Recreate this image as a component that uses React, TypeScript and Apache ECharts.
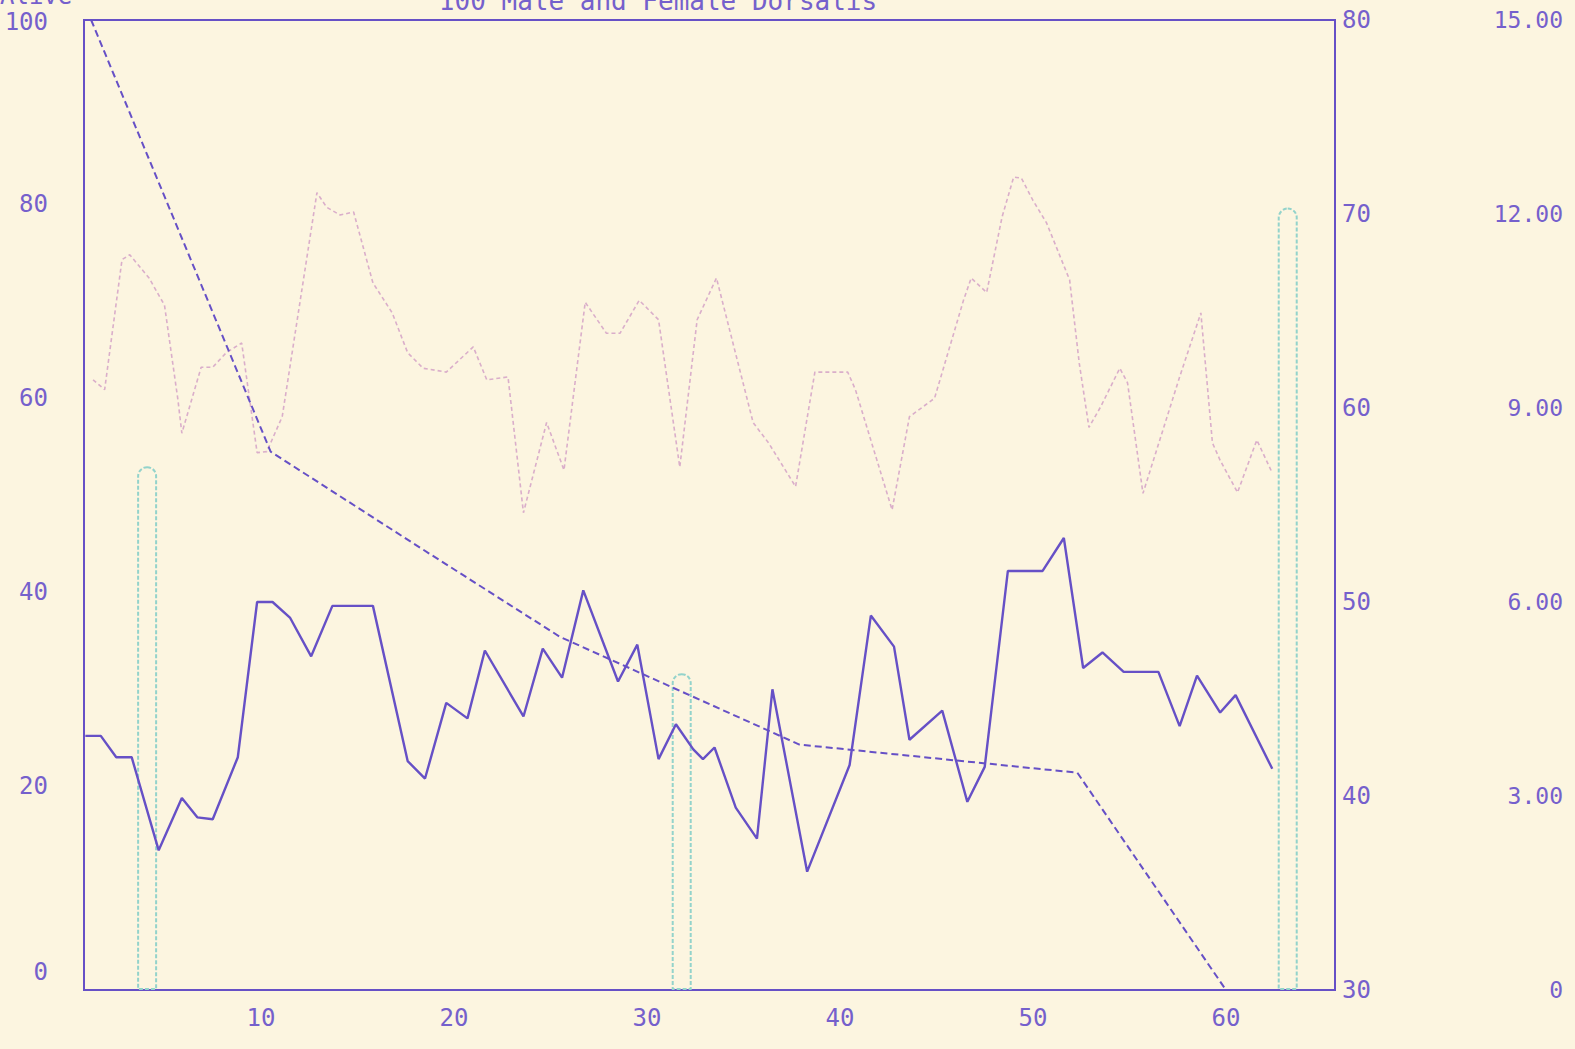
import React, { useEffect, useRef } from "react";
import * as echarts from "echarts";

// Typewriter-style field chart: survival of 100 flies with weather readings.
const INK = "#6650c6";
const LABEL_INK = "#7560cc";
const PINK = "#d6a6c8";
const TEAL = "#93d3cb";
const PAPER = "#fcf5e0";
const MONO = "'DejaVu Sans Mono', 'Liberation Mono', monospace";

// Flies still alive (left axis, 0-100)
const aliveDays = [1.2, 10.5, 18.4, 25.5, 37.9, 52.3, 60];
const aliveValues = [100, 55.5, 45.4, 36.4, 25.3, 22.4, 0];

// Solid trace (right axis, 30-80)
const tempDays = [
  0.9, 1.7, 2.5, 3.3, 4.7, 5.9, 6.7, 7.5, 8.8, 9.8, 10.6, 11.5, 12.6, 13.7, 15.8,
  17.6, 18.5, 19.6, 20.7, 21.6, 23.6, 24.6, 25.6, 26.7, 28.5, 29.5, 30.6, 31.5,
  32.4, 32.9, 33.5, 34.6, 35.7, 36.5, 38.3, 40.5, 41.6, 42.8, 43.6, 45.3, 46.6,
  47.5, 48.7, 50.5, 51.6, 52.6, 53.6, 54.7, 56.5, 57.6, 58.5, 59.7, 60.5, 62.4,
];
const tempValues = [
  43.1, 43.1, 42.0, 42.0, 37.2, 39.9, 38.9, 38.8, 42.0, 50.0, 50.0, 49.2, 47.2,
  49.8, 49.8, 41.8, 40.9, 44.8, 44.0, 47.5, 44.1, 47.6, 46.1, 50.6, 45.9, 47.8,
  41.9, 43.7, 42.4, 41.9, 42.5, 39.4, 37.8, 45.5, 36.1, 41.6, 49.3, 47.7, 42.9,
  44.4, 39.7, 41.5, 51.6, 51.6, 53.3, 46.6, 47.4, 46.4, 46.4, 43.6, 46.2, 44.3,
  45.2, 41.4,
];

// Faint pencil trace (left axis, 0-100)
const humidityDays = [
  1.3, 1.9, 2.8, 3.2, 4.2, 5.0, 5.7, 5.9, 6.9, 7.5, 8.2, 9.0, 9.8, 10.3, 11.1,
  12.9, 13.4, 14.1, 14.8, 15.8, 16.8, 17.6, 18.4, 19.6, 21.0, 21.7, 22.8, 23.6,
  24.8, 25.7, 26.8, 27.9, 28.6, 29.6, 30.6, 31.7, 32.6, 33.6, 35.5, 36.3, 37.7,
  38.7, 40.4, 40.8, 42.7, 43.6, 44.9, 46.4, 46.8, 47.6, 48.4, 49.0, 49.4, 50.0,
  50.7, 51.9, 52.4, 52.9, 53.5, 54.5, 54.9, 55.7, 57.6, 58.7, 59.3, 59.7, 60.6,
  61.6, 62.4,
];
const humidityValues = [
  62.9, 61.9, 75.3, 75.8, 73.4, 70.6, 60.8, 57.4, 64.2, 64.2, 65.7, 66.7, 55.4,
  55.5, 59.1, 82.2, 80.7, 79.9, 80.2, 72.9, 69.8, 65.7, 64.1, 63.7, 66.3, 62.9,
  63.2, 49.2, 58.5, 53.6, 70.9, 67.7, 67.7, 71.1, 69.1, 53.9, 69.1, 73.4, 58.5,
  56.4, 51.9, 63.7, 63.7, 61.9, 49.5, 59.1, 61.0, 71.1, 73.4, 71.9, 79.7, 83.8,
  83.7, 81.4, 79.1, 73.2, 64.6, 58.0, 60.1, 64.1, 62.6, 51.2, 63.2, 69.8, 56.4,
  54.6, 51.3, 56.7, 53.3,
];

// Rainfall bars (far right axis, 0-15.00)
const rainDays = [4.1, 31.8, 63.2];
const rainValues = [8.1, 4.9, 12.1];

const zip = (xs: number[], ys: number[]) => xs.map((x, i) => [x, ys[i]]);

export default function App() {
  const ref = useRef<HTMLDivElement>(null);

  useEffect(() => {
    const chart = echarts.init(ref.current!, null, { renderer: "svg" });
    const labelBase = { color: LABEL_INK, fontFamily: MONO, fontSize: 24 };
    chart.setOption({
      animation: false,
      backgroundColor: PAPER,
      grid: {
        left: 84,
        right: 240,
        top: 20,
        bottom: 59,
        show: true,
        borderColor: INK,
        borderWidth: 2,
        backgroundColor: "transparent",
      },
      graphic: [
        {
          type: "text",
          left: 0,
          top: -16,
          style: { text: "Alive", fill: LABEL_INK, font: `24px ${MONO}` },
        },
        {
          type: "text",
          x: 658,
          y: 1,
          style: {
            text: "100 Male and Female Dorsalis",
            fill: LABEL_INK,
            font: `26px ${MONO}`,
            align: "center",
            verticalAlign: "middle",
          },
        },
      ],
      xAxis: {
        type: "value",
        min: 0.83,
        max: 65.65,
        splitNumber: 6,
        splitLine: { show: false },
        axisTick: { show: false },
        axisLine: { show: true, lineStyle: { color: INK, width: 2 } },
        axisLabel: {
          ...labelBase,
          margin: 16,
          showMinLabel: false,
          showMaxLabel: false,
          formatter: (v: number) => {
            const r = Math.round(v / 10) * 10;
            return Math.abs(v - r) < 1e-6 && r > 0 ? String(r) : "";
          },
        },
      },
      yAxis: [
        {
          type: "value",
          position: "left",
          min: 0,
          max: 100,
          interval: 20,
          splitLine: { show: false },
          axisTick: { show: false },
          axisLine: { show: true, lineStyle: { color: INK, width: 2 } },
          axisLabel: {
            ...labelBase,
            margin: 36,
            // typed labels sit a little above their grid lines
            formatter: (v: number) =>
              v === 100 ? `{top|${v}}` : v === 0 ? `{low|${v}}` : `{mid|${v}}`,
            rich: {
              top: { ...labelBase, padding: [4, 0, 0, 0] },
              mid: { ...labelBase, padding: [0, 0, 20, 0] },
              low: { ...labelBase, padding: [0, 0, 36, 0] },
            },
          },
        },
        {
          type: "value",
          position: "right",
          min: 30,
          max: 80,
          interval: 10,
          splitLine: { show: false },
          axisTick: { show: false },
          axisLine: { show: true, lineStyle: { color: INK, width: 2 } },
          axisLabel: { ...labelBase, margin: 7 },
        },
        {
          type: "value",
          position: "right",
          offset: 228,
          min: 0,
          max: 15,
          interval: 3,
          splitLine: { show: false },
          axisTick: { show: false },
          axisLine: { show: false },
          axisLabel: {
            ...labelBase,
            fontSize: 23,
            margin: 0,
            align: "right",
            formatter: (v: number) => (v === 0 ? "0" : v.toFixed(2)),
          },
        },
      ],
      series: [
        {
          type: "bar",
          yAxisIndex: 2,
          barWidth: 20,
          data: zip(rainDays, rainValues),
          itemStyle: {
            color: "rgba(0,0,0,0)",
            borderColor: TEAL,
            borderWidth: 2,
            borderType: [4, 2],
            borderRadius: [10, 10, 0, 0],
          },
        },
        {
          type: "line",
          yAxisIndex: 0,
          data: zip(humidityDays, humidityValues),
          showSymbol: false,
          lineStyle: { color: PINK, width: 1.6, type: [4, 3], opacity: 0.9 },
        },
        {
          type: "line",
          yAxisIndex: 0,
          data: zip(aliveDays, aliveValues),
          showSymbol: false,
          lineStyle: { color: INK, width: 2, type: [7, 4] },
        },
        {
          type: "line",
          yAxisIndex: 1,
          data: zip(tempDays, tempValues),
          showSymbol: false,
          lineStyle: { color: INK, width: 2.4 },
        },
      ],
    });
    return () => chart.dispose();
  }, []);

  return (
    <div
      ref={ref}
      style={{ position: "fixed", left: 0, top: 0, width: 1575, height: 1049 }}
    />
  );
}
